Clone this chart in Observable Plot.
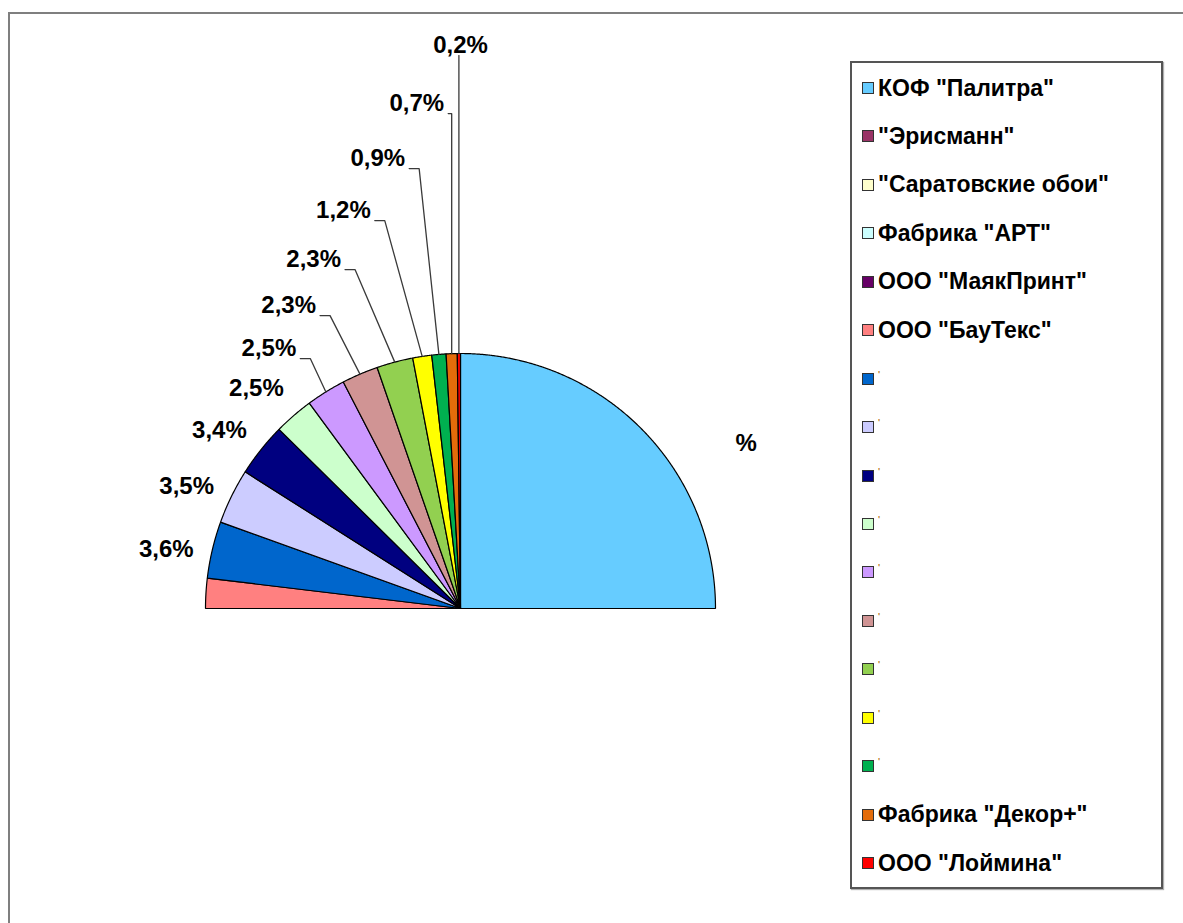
<!DOCTYPE html>
<html>
<head>
<meta charset="utf-8">
<script src="https://cdn.jsdelivr.net/npm/d3@7"></script>
<script src="https://cdn.jsdelivr.net/npm/@observablehq/plot@0.6"></script>
<style>
  html, body { margin: 0; padding: 0; background: #fff; }
  #wrap { position: relative; width: 1183px; height: 923px; overflow: hidden;
          font-family: "Liberation Sans", Arial, sans-serif; }
  #chart { position: absolute; left: 0; top: 0; }
  #frame { position: absolute; left: 8px; top: 12px; width: 1400px; height: 1200px;
           border: 2px solid #7f7f7f; box-sizing: border-box; pointer-events: none; }
  #legend { position: absolute; left: 850px; top: 61px; width: 313px; height: 828px;
            border: 2px solid #555; box-sizing: border-box; background: #fff;
            box-shadow: 1px 1px 1px #b0b0b0; }
  .row { position: absolute; left: 10px; height: 48px; display: flex; align-items: center;
         white-space: nowrap; font-weight: bold; font-size: 23px; color: #000; }
  .sw { width: 10px; height: 10px; border: 1.5px solid #333; margin-right: 4px; flex: none; }
  .tiny { font-size: 9px; color: #b8781c; align-self: flex-start; margin-top: 14px; }
</style>
</head>
<body>
<div id="wrap">
  <div id="chart"></div>
  <div id="frame"></div>
  <div id="legend"></div>
</div>
<script>
// ---------- data ----------
const names = [
  'КОФ "Палитра"', '"Эрисманн"', '"Саратовские обои"', 'Фабрика "АРТ"',
  'ООО "МаякПринт"', 'ООО "БауТекс"', "'", "'", "'", "'", "'", "'", "'", "'", "'",
  'Фабрика "Декор+"', 'ООО "Лоймина"'
];
// percent of the whole circle; the four unfilled slices together fill the lower half (50%)
const values = [25, 14.6, 13.2, 11.8, 10.4, 1.9, 3.6, 3.5, 3.4, 2.5, 2.5, 2.3, 2.3, 1.2, 0.9, 0.7, 0.2];
const labelTexts = ["%", "", "", "", "", "", "3,6%", "3,5%", "3,4%", "2,5%", "2,5%", "2,3%", "2,3%", "1,2%", "0,9%", "0,7%", "0,2%"];
const colors = [
  "#66CCFF", "#993366", "#FFFFCC", "#CCFFFF", "#660066", "#FF8080", "#0066CC", "#CCCCFF",
  "#000080", "#CCFFCC", "#CC99FF", "#D09494", "#92D050", "#FFFF00", "#00B050", "#E46C0A", "#FF0000"
];
// slices drawn without fill or border in the original
const unfilled = ['"Эрисманн"', '"Саратовские обои"', 'Фабрика "АРТ"', 'ООО "МаякПринт"'];

// ---------- layout ----------
const W = 1183, H = 923, CX = 460, CY = 608, RPX = 255;
const FS = 24, LABEL_R = 300, GAP0 = 40, GAP_INC = 3, PUSH_MIN = 10;
const deg = Math.PI / 180;

const rows = names.map((name, i) => ({i, name, value: values[i], label: labelTexts[i], hidden: unfilled.includes(name)}));
const arcs = d3.pie().sort(null).value(d => d.value).startAngle(0).endAngle(2 * Math.PI)(rows);

// slice outlines (unit radius, angle clockwise from 12 o'clock)
const slicePts = [];
for (const a of arcs) {
  if (a.data.hidden) continue;
  const n = Math.max(2, Math.ceil((a.endAngle - a.startAngle) / (0.25 * deg)));
  slicePts.push({id: a.data.i, x: 0, y: 0});
  for (let k = 0; k <= n; k++) {
    const t = a.startAngle + (a.endAngle - a.startAngle) * k / n;
    slicePts.push({id: a.data.i, x: Math.sin(t), y: Math.cos(t)});
  }
  slicePts.push({id: a.data.i, x: 0, y: 0});
}

// labels: outside the rim; big slices sit further out and toward the horizontal
const ctx = document.createElement("canvas").getContext("2d");
ctx.font = `bold ${FS}px "Liberation Sans", Arial, sans-serif`;
const labels = arcs.filter(a => !a.data.hidden && a.data.label).map(a => {
  const mid = (a.startAngle + a.endAngle) / 2;
  const extra = Math.max(0, a.data.value - 5);
  const shift = (2 + 0.65 * extra) * deg;
  const r = LABEL_R * (1 + 0.005 * extra);
  const toward = mid < Math.PI ? Math.PI / 2 : 3 * Math.PI / 2;
  const th = mid + Math.sign(toward - mid) * shift;
  return {d: a.data, mid, dx: r * Math.sin(th), dy: r * Math.cos(th),
          push: 0, w: ctx.measureText(a.data.label).width};
});
// left side: stack labels upward so they don't overlap (gap widens up the stack)
const left = labels.filter(l => l.mid > Math.PI);
let stackStart = -1;
for (let k = 1; k < left.length; k++) {
  const gap = GAP0 + GAP_INC * Math.max(0, stackStart < 0 ? 0 : k - stackStart);
  const need = left[k - 1].dy + gap;
  if (left[k].dy < need) {
    if (stackStart < 0) stackStart = k;
    left[k].push = need - left[k].dy; left[k].dy = need;
  }
}
const firstPushed = left.findIndex(l => l.push > PUSH_MIN);
if (firstPushed > 0) {
  const anchor = left[firstPushed - 1], top = left[left.length - 1];
  for (let k = firstPushed; k < left.length; k++) {
    const l = left[k];
    const t = (l.dy - anchor.dy) / (top.dy - anchor.dy);
    l.dx = anchor.dx * (1 - Math.pow(t, 1.3));
    l.leader = true;
  }
}
// leader lines (pixel offsets -> unit radius)
const leaderPts = [];
for (const l of labels.filter(l => l.leader)) {
  const ax = RPX * Math.sin(l.mid), ay = RPX * Math.cos(l.mid);
  const sx = Math.min(l.dx + l.w / 2 + 4, ax), sy = l.dy - 10;
  const ex = sx + Math.min(10, Math.max(0, ax - sx));
  [[sx, sy], [ex, sy], [ax, ay]].forEach(([x, y]) => leaderPts.push({id: l.d.i, x: x / RPX, y: y / RPX}));
}

const chart = Plot.plot({
  width: W, height: H, margin: 0,
  style: {fontFamily: '"Liberation Sans", Arial, sans-serif', background: "transparent"},
  x: {domain: [-CX / RPX, (W - CX) / RPX], axis: null},
  y: {domain: [-(H - CY) / RPX, CY / RPX], axis: null},
  color: {type: "ordinal", domain: rows.map(r => r.i), range: colors},
  marks: [
    Plot.line(slicePts, {x: "x", y: "y", z: "id", fill: "id", stroke: "#000", strokeWidth: 1.2,
                         strokeLinejoin: "miter", strokeLinecap: "butt"}),
    Plot.line(leaderPts, {x: "x", y: "y", z: "id", stroke: "#3a3a3a", strokeWidth: 1.3,
                          strokeLinejoin: "miter", curve: "linear"}),
    Plot.text(labels, {x: l => l.dx / RPX, y: l => l.dy / RPX, text: l => l.d.label,
                       fontSize: FS, fontWeight: "bold", fill: "#000"})
  ]
});
document.getElementById("chart").appendChild(chart);

// legend
const legend = d3.select("#legend");
rows.forEach((r, k) => {
  const row = legend.append("div").attr("class", "row").style("top", `${1 + 48.44 * k}px`);
  row.append("div").attr("class", "sw").style("background", colors[k]);
  row.append("span").attr("class", r.name.length < 2 ? "tiny" : null).text(r.name);
});
</script>
</body>
</html>
